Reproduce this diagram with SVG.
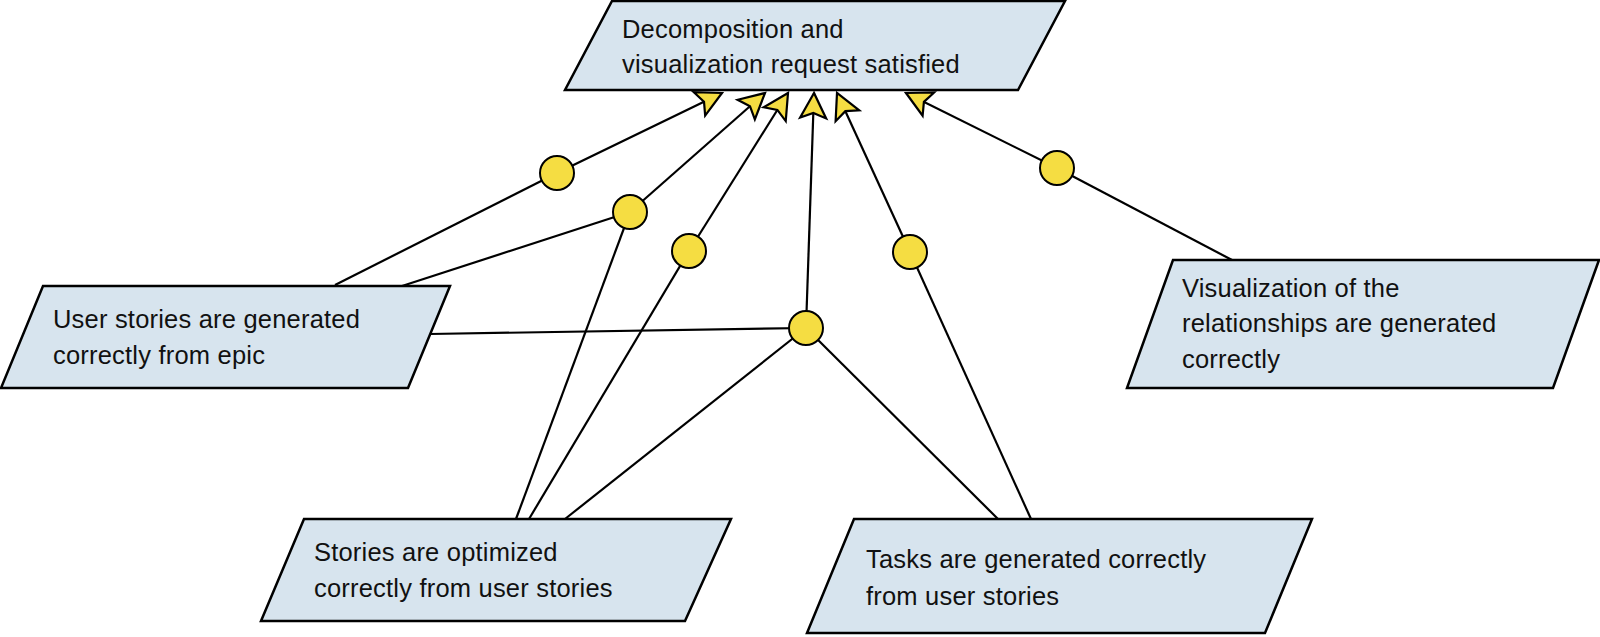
<svg xmlns="http://www.w3.org/2000/svg" width="1600" height="637" viewBox="0 0 1600 637">
<style>
.node{fill:#d7e4ee;stroke:#000;stroke-width:2.5;stroke-linejoin:miter}
.lbl{font-family:"Liberation Sans",Arial,sans-serif;font-size:25.5px;letter-spacing:0.2px;fill:#111}
.ln{stroke:#000;stroke-width:2.2;fill:none}
.dot{fill:#f5dd42;stroke:#000;stroke-width:2}
</style>
<defs>
<marker id="arr" markerUnits="userSpaceOnUse" orient="auto" refX="0" refY="0" markerWidth="40" markerHeight="40" viewBox="-30 -20 40 40" overflow="visible">
<path d="M0,0 L-25,-13 L-20,0 L-25,13 Z" fill="#f5dd42" stroke="#000" stroke-width="2.2" stroke-linejoin="miter"/>
</marker>
</defs>
<rect width="1600" height="637" fill="#fff"/>
<g id="connectors">
<line class="ln" x1="335" y1="285" x2="557" y2="173"/>
<line class="ln" x1="402" y1="286" x2="630" y2="212"/>
<line class="ln" x1="430" y1="334" x2="806" y2="328"/>
<line class="ln" x1="516" y1="519" x2="630" y2="212"/>
<line class="ln" x1="529" y1="519" x2="689" y2="251"/>
<line class="ln" x1="565" y1="519" x2="806" y2="328"/>
<line class="ln" x1="998" y1="519" x2="806" y2="328"/>
<line class="ln" x1="1031" y1="519" x2="910" y2="252"/>
<line class="ln" x1="1232" y1="260" x2="1057" y2="168"/>
<line class="ln" x1="557" y1="173" x2="722" y2="93" marker-end="url(#arr)"/>
<line class="ln" x1="630" y1="212" x2="765" y2="93" marker-end="url(#arr)"/>
<line class="ln" x1="689" y1="251" x2="788" y2="93" marker-end="url(#arr)"/>
<line class="ln" x1="806" y1="328" x2="814" y2="93" marker-end="url(#arr)"/>
<line class="ln" x1="910" y1="252" x2="837" y2="93" marker-end="url(#arr)"/>
<line class="ln" x1="1057" y1="168" x2="906" y2="93" marker-end="url(#arr)"/>
<circle class="dot" cx="557" cy="173" r="17"/>
<circle class="dot" cx="630" cy="212" r="17"/>
<circle class="dot" cx="689" cy="251" r="17"/>
<circle class="dot" cx="806" cy="328" r="17"/>
<circle class="dot" cx="910" cy="252" r="17"/>
<circle class="dot" cx="1057" cy="168" r="17"/>
</g>
<g id="top">
<polygon class="node" points="612,1 1065,1 1018,90 565,90"/>
<text class="lbl" x="622" y="38">Decomposition and</text>
<text class="lbl" x="622" y="73">visualization request satisfied</text>
</g>
<g id="left">
<polygon class="node" points="43,286 450,286 408,388 1,388"/>
<text class="lbl" x="53" y="328">User stories are generated</text>
<text class="lbl" x="53" y="364">correctly from epic</text>
</g>
<g id="right">
<polygon class="node" points="1173,260 1599,260 1553,388 1127,388"/>
<text class="lbl" x="1182" y="297">Visualization of the</text>
<text class="lbl" x="1182" y="332">relationships are generated</text>
<text class="lbl" x="1182" y="368">correctly</text>
</g>
<g id="bottom-left">
<polygon class="node" points="304,519 731,519 685,621 261,621"/>
<text class="lbl" x="314" y="561">Stories are optimized</text>
<text class="lbl" x="314" y="597">correctly from user stories</text>
</g>
<g id="bottom-right">
<polygon class="node" points="854,519 1312,519 1265,633 807,633"/>
<text class="lbl" x="866" y="568">Tasks are generated correctly</text>
<text class="lbl" x="866" y="605">from user stories</text>
</g>
</svg>
